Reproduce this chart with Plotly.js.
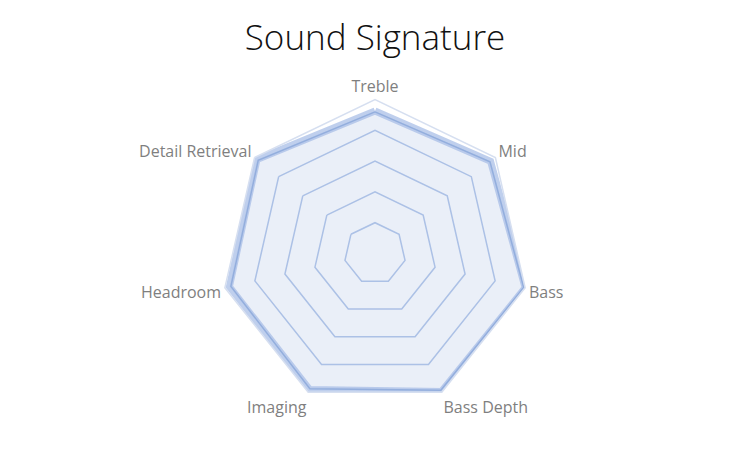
<!DOCTYPE html>
<html>
<head>
<meta charset="utf-8">
<script src="https://cdn.plot.ly/plotly-3.0.1.min.js"></script>
<style>html,body{margin:0;padding:0;background:#fff;}#chart{width:750px;height:450px;}</style>
</head>
<body>
<div id="chart"></div>
<script>
const categories = ["Treble", "Mid", "Bass", "Bass Depth", "Imaging", "Headroom", "Detail Retrieval"];
const bandValues = [9.25, 9.6, 10.0, 9.95, 9.8, 9.7, 9.8];
const lineValues = [9.2, 9.55, 9.9, 9.85, 9.75, 9.6, 9.7];
const gridValues = [2, 4, 6, 8];

function closed(a) { return a.concat([a[0]]); }

const traces = [
  {
    type: "scatterpolar",
    r: closed(bandValues),
    theta: closed(categories),
    fill: "toself",
    fillcolor: "rgba(180,199,231,0.28)",
    mode: "lines",
    line: { color: "rgba(164,187,229,0.7)", width: 7 },
    hoverinfo: "skip",
    showlegend: false
  },
  {
    type: "scatterpolar",
    r: closed(lineValues),
    theta: closed(categories),
    mode: "lines",
    line: { color: "#93aedd", width: 1.5 },
    hoverinfo: "skip",
    showlegend: false
  }
];

const layout = {
  width: 750,
  height: 450,
  margin: { l: 0, r: 0, t: 0, b: 0 },
  paper_bgcolor: "#ffffff",
  showlegend: false,
  title: {
    text: "Sound Signature",
    x: 0.5,
    xanchor: "center",
    y: 1 - 38 / 450,
    yanchor: "middle",
    yref: "container",
    font: { family: "Open Sans", size: 35, color: "#111111", weight: 300 }
  },
  polar: {
    domain: { x: [0, 1], y: [(450 - 407.5) / 450, (450 - 99.5) / 450] },
    bgcolor: "rgba(0,0,0,0)",
    gridshape: "linear",
    radialaxis: {
      range: [0, 10],
      tickvals: gridValues,
      showticklabels: false,
      ticks: "",
      showline: false,
      gridcolor: "#a9bfe6",
      gridwidth: 1.5
    },
    angularaxis: {
      type: "category",
      categoryarray: categories,
      direction: "clockwise",
      rotation: 90,
      showgrid: false,
      ticks: "",
      showline: true,
      linecolor: "#d6dff0",
      linewidth: 1.5,
      tickfont: { family: "Open Sans", size: 16, color: "#7f7f7f" }
    }
  }
};

Plotly.newPlot("chart", traces, layout, { displayModeBar: false, staticPlot: true });
</script>
</body>
</html>
